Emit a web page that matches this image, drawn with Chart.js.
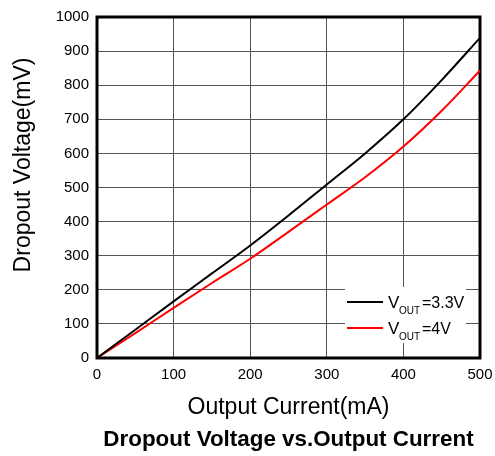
<!DOCTYPE html>
<html>
<head>
<meta charset="utf-8">
<script src="https://cdn.jsdelivr.net/npm/chart.js@4.4.1/dist/chart.umd.min.js"></script>
<style>
  html, body { margin: 0; padding: 0; background: #fff; }
  #wrap { width: 495px; height: 456px; }
</style>
</head>
<body>
<div id="wrap"><canvas id="dropout"></canvas></div>
<script>
"use strict";

// output current (mA) and dropout voltage (mV) for each output setting
const current = [0, 50, 100, 150, 200, 250, 300, 350, 400, 450, 500];
const vout33 = [0, 83, 166, 248, 330, 418, 509, 600, 700, 815, 939];
const vout4 = [0, 73, 147, 220, 291, 370, 450, 530, 620, 725, 843];

const xTicks = [0, 100, 200, 300, 400, 500];
const yTicks = [0, 100, 200, 300, 400, 500, 600, 700, 800, 900, 1000];

const FONT = "Arial, 'Liberation Sans', sans-serif";

function points(ys) {
    return current.map((x, i) => ({ x: x, y: ys[i] }));
}

// thick frame round the plot area
const frame = {
    id: 'frame',
    beforeDatasetsDraw(chart) {
        const a = chart.chartArea;
        const ctx = chart.ctx;
        ctx.save();
        ctx.strokeStyle = '#000';
        ctx.lineWidth = 3;
        ctx.strokeRect(a.left, a.top, a.right - a.left, a.bottom - a.top);
        ctx.restore();
    }
};

// y axis title (sits a little above centre) and the caption under the x title
const captions = {
    id: 'captions',
    afterDraw(chart) {
        const a = chart.chartArea;
        const ctx = chart.ctx;
        ctx.save();
        ctx.fillStyle = '#000';
        ctx.textAlign = 'center';
        ctx.textBaseline = 'middle';
        ctx.font = 'bold 22.4px ' + FONT;
        ctx.fillText('Dropout Voltage vs.Output Current', (a.left + a.right) / 2, 440);
        ctx.translate(24, 165);
        ctx.rotate(-Math.PI / 2);
        ctx.font = '23px ' + FONT;
        ctx.fillText('Dropout Voltage(mV)', 0, 0);
        ctx.restore();
    }
};

// legend box with subscripted V_OUT
const vLegend = {
    id: 'vLegend',
    afterDatasetsDraw(chart) {
        const ctx = chart.ctx;
        const left = 345, top = 287, w = 121, h = 56;
        ctx.save();
        ctx.fillStyle = '#fff';
        ctx.fillRect(left, top, w, h);
        const rows = [
            { color: '#000', text: '=3.3V', yy: top + 15 },
            { color: '#ff0000', text: '=4V', yy: top + 41 }
        ];
        rows.forEach(r => {
            ctx.strokeStyle = r.color;
            ctx.lineWidth = 2;
            ctx.beginPath();
            ctx.moveTo(left + 2, r.yy);
            ctx.lineTo(left + 38, r.yy);
            ctx.stroke();
            ctx.fillStyle = '#000';
            ctx.textBaseline = 'alphabetic';
            ctx.textAlign = 'left';
            ctx.font = '17px ' + FONT;
            ctx.fillText('V', left + 43, r.yy + 6);
            ctx.font = '10px ' + FONT;
            ctx.fillText('OUT', left + 54, r.yy + 12);
            ctx.font = '16px ' + FONT;
            ctx.fillText(r.text, left + 77, r.yy + 6);
        });
        ctx.restore();
    }
};

new Chart(document.getElementById('dropout'), {
    type: 'line',
    data: {
        datasets: [{
            label: 'VOUT=3.3V',
            data: points(vout33),
            borderColor: '#000',
            borderWidth: 2,
            pointRadius: 0,
            cubicInterpolationMode: 'monotone'
        }, {
            label: 'VOUT=4V',
            data: points(vout4),
            borderColor: '#ff0000',
            borderWidth: 2,
            pointRadius: 0,
            cubicInterpolationMode: 'monotone'
        }]
    },
    options: {
        responsive: true,
        maintainAspectRatio: false,
        animation: false,
        layout: { padding: { top: 14, right: 15, left: 0, bottom: 30.4 } },
        plugins: {
            legend: { display: false },
            tooltip: { enabled: false }
        },
        scales: {
            x: {
                type: 'linear',
                min: 0,
                max: 500,
                afterBuildTicks: s => { s.ticks = xTicks.map(v => ({ value: v })); },
                afterFit: s => { s.height = 67.6; s.paddingRight = 14; },
                ticks: { color: '#000', font: { family: FONT, size: 15 }, padding: 8, maxRotation: 0,
                         callback: v => String(v) },
                grid: { color: '#555', lineWidth: 1, drawTicks: false },
                border: { display: false },
                title: {
                    display: true,
                    text: 'Output Current(mA)',
                    color: '#000',
                    font: { family: FONT, size: 23, lineHeight: 1.2 },
                    padding: { top: 0, bottom: 3.8 }
                }
            },
            y: {
                min: 0,
                max: 1000,
                afterBuildTicks: s => { s.ticks = yTicks.map(v => ({ value: v })); },
                afterFit: s => { s.width = 97; },
                ticks: { color: '#000', font: { family: FONT, size: 15 }, padding: 8,
                         callback: v => String(v) },
                grid: { color: '#555', lineWidth: 1, drawTicks: false },
                border: { display: false }
            }
        }
    },
    plugins: [frame, vLegend, captions]
});
</script>
</body>
</html>
